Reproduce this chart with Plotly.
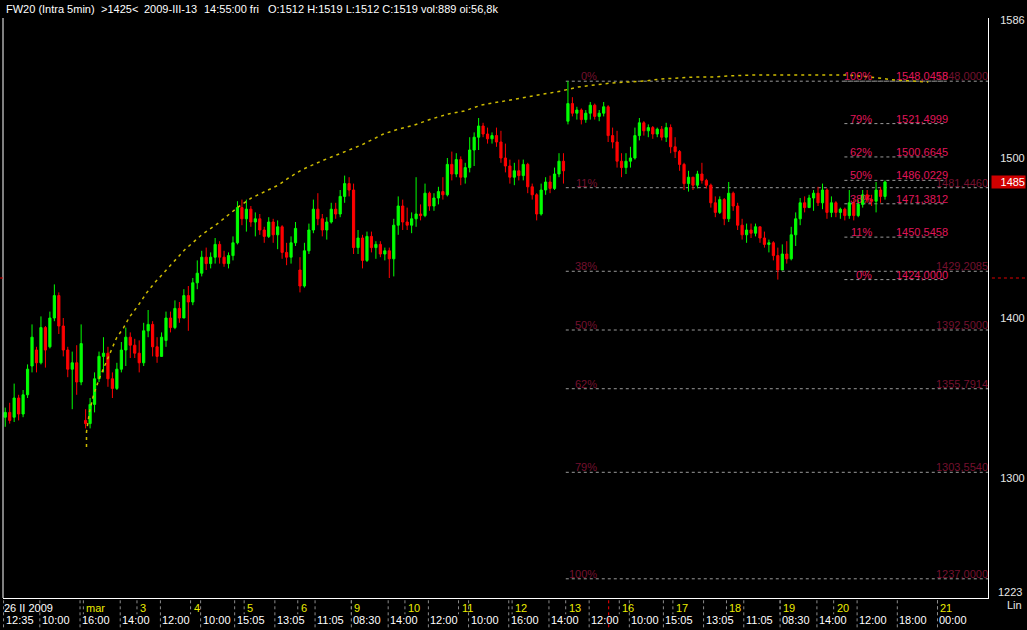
import plotly.graph_objects as go
from datetime import datetime

# ---------------- data ----------------
trading_days = ["2009-02-26", "2009-02-27", "2009-03-02", "2009-03-03", "2009-03-04",
                "2009-03-05", "2009-03-06", "2009-03-09", "2009-03-10", "2009-03-11",
                "2009-03-12", "2009-03-13", "2009-03-16", "2009-03-17", "2009-03-18",
                "2009-03-19", "2009-03-20"]
bars_per_day = 12          # one bar per 40 trading minutes (08:30-16:30)
first_day_first_slot = 6   # the history starts at 26 II 2009 12:35

opens = [
    1338, 1341, 1338, 1350, 1340, 1352,
    1370, 1380, 1372, 1394, 1382, 1400, 1414, 1395, 1380, 1368, 1372, 1360,
    1336, 1334, 1346, 1362, 1376, 1378, 1362, 1356, 1368, 1380, 1388, 1383,
    1378, 1372, 1392, 1396, 1382, 1376, 1386, 1400, 1394, 1406, 1400, 1414,
    1410, 1422, 1428, 1438, 1434, 1438, 1446, 1438, 1434, 1439, 1447, 1469,
    1462, 1468, 1460, 1462, 1455, 1451, 1460, 1452, 1457, 1441, 1438, 1447,
    1430, 1420, 1442, 1455, 1468, 1462, 1455, 1460, 1468, 1465, 1476, 1484,
    1480, 1444, 1450, 1436, 1451, 1444, 1446, 1440, 1442, 1437, 1458, 1470,
    1460, 1458, 1462, 1465, 1464, 1478, 1470, 1475, 1479, 1477, 1496, 1490,
    1499, 1488, 1494, 1505, 1513, 1520, 1515, 1512, 1514, 1510, 1500, 1495,
    1488, 1492, 1489, 1496, 1482, 1477, 1465, 1480, 1485, 1481, 1490, 1498,
    1523, 1534, 1528, 1530, 1524, 1528, 1533, 1526, 1528, 1532, 1514, 1510,
    1498, 1494, 1498, 1500, 1514, 1522, 1517, 1519, 1515, 1518, 1513, 1519,
    1507, 1504, 1496, 1484, 1488, 1483, 1490, 1486, 1483, 1472, 1466, 1474,
    1462, 1478, 1470, 1458, 1452, 1455, 1453, 1457, 1450, 1446, 1447, 1439,
    1430, 1440, 1437, 1452, 1462, 1472, 1469, 1475, 1478, 1472, 1480, 1466,
    1472, 1466, 1468, 1464, 1472, 1464, 1471, 1477, 1474, 1473, 1480, 1476,
]
highs = [
    1344, 1347, 1359, 1352, 1355, 1371,
    1396, 1382, 1401, 1395, 1404, 1421, 1416, 1400, 1382, 1379, 1383, 1396,
    1343, 1350, 1366, 1379, 1388, 1382, 1366, 1372, 1385, 1394, 1391, 1387,
    1386, 1397, 1405, 1398, 1388, 1391, 1404, 1404, 1411, 1410, 1418, 1420,
    1425, 1436, 1442, 1444, 1441, 1450, 1448, 1442, 1441, 1451, 1473, 1474,
    1474, 1470, 1466, 1465, 1457, 1463, 1462, 1461, 1458, 1447, 1451, 1460,
    1438, 1447, 1459, 1474, 1478, 1465, 1463, 1472, 1472, 1480, 1489, 1488,
    1484, 1455, 1452, 1454, 1454, 1448, 1448, 1444, 1444, 1462, 1476, 1474,
    1469, 1466, 1488, 1471, 1484, 1479, 1478, 1482, 1488, 1500, 1504, 1503,
    1501, 1497, 1513, 1516, 1525, 1522, 1519, 1516, 1519, 1517, 1509, 1499,
    1497, 1499, 1499, 1497, 1484, 1478, 1484, 1488, 1489, 1494, 1503, 1503,
    1548, 1538, 1532, 1531, 1530, 1535, 1534, 1530, 1535, 1533, 1519, 1517,
    1503, 1503, 1507, 1519, 1525, 1523, 1521, 1520, 1519, 1520, 1522, 1521,
    1513, 1505, 1497, 1492, 1488, 1492, 1497, 1487, 1484, 1476, 1476, 1475,
    1485, 1479, 1472, 1462, 1459, 1459, 1459, 1457, 1454, 1449, 1448, 1444,
    1446, 1448, 1457, 1466, 1475, 1476, 1477, 1480, 1482, 1484, 1481, 1476,
    1473, 1469, 1469, 1480, 1474, 1474, 1480, 1480, 1477, 1485, 1482, 1486,
]
lows = [
    1332, 1334, 1335, 1336, 1338, 1350,
    1366, 1366, 1371, 1369, 1381, 1398, 1390, 1376, 1363, 1343, 1352, 1358,
    1331, 1331, 1341, 1360, 1366, 1357, 1350, 1355, 1366, 1370, 1375, 1375,
    1366, 1370, 1388, 1376, 1372, 1376, 1382, 1391, 1393, 1397, 1400, 1392,
    1408, 1418, 1426, 1430, 1431, 1434, 1434, 1432, 1431, 1436, 1446, 1458,
    1454, 1457, 1451, 1452, 1447, 1450, 1447, 1443, 1437, 1433, 1434, 1445,
    1416, 1419, 1440, 1453, 1458, 1451, 1449, 1459, 1462, 1463, 1472, 1476,
    1440, 1440, 1431, 1435, 1441, 1437, 1438, 1436, 1425, 1426, 1452, 1455,
    1455, 1453, 1457, 1461, 1463, 1467, 1467, 1471, 1474, 1476, 1486, 1488,
    1483, 1484, 1491, 1495, 1505, 1513, 1509, 1509, 1507, 1497, 1491, 1484,
    1483, 1486, 1486, 1478, 1474, 1461, 1464, 1477, 1478, 1480, 1488, 1484,
    1521, 1526, 1524, 1521, 1522, 1524, 1524, 1523, 1526, 1510, 1506, 1494,
    1488, 1490, 1494, 1499, 1511, 1514, 1513, 1512, 1513, 1511, 1510, 1503,
    1500, 1492, 1480, 1479, 1480, 1481, 1484, 1481, 1469, 1463, 1465, 1458,
    1460, 1467, 1455, 1449, 1447, 1450, 1451, 1447, 1444, 1441, 1436, 1424,
    1430, 1434, 1436, 1445, 1458, 1466, 1469, 1467, 1470, 1468, 1462, 1463,
    1463, 1462, 1461, 1462, 1461, 1463, 1469, 1472, 1470, 1466, 1472, 1474,
]
closes = [
    1341, 1336, 1350, 1340, 1352, 1368,
    1388, 1372, 1394, 1380, 1400, 1414, 1395, 1380, 1368, 1372, 1360, 1384,
    1334, 1346, 1362, 1376, 1378, 1362, 1356, 1368, 1380, 1388, 1383, 1378,
    1372, 1392, 1396, 1382, 1376, 1388, 1400, 1394, 1406, 1400, 1414, 1410,
    1422, 1428, 1438, 1434, 1438, 1446, 1438, 1434, 1439, 1447, 1469, 1462,
    1468, 1460, 1462, 1455, 1451, 1460, 1452, 1457, 1441, 1438, 1447, 1456,
    1420, 1442, 1455, 1468, 1462, 1455, 1460, 1468, 1465, 1476, 1484, 1480,
    1444, 1450, 1436, 1451, 1444, 1446, 1440, 1442, 1437, 1458, 1470, 1460,
    1458, 1462, 1465, 1464, 1478, 1470, 1475, 1479, 1477, 1496, 1490, 1499,
    1488, 1494, 1505, 1513, 1520, 1515, 1512, 1514, 1510, 1500, 1495, 1488,
    1492, 1489, 1496, 1482, 1477, 1465, 1480, 1485, 1481, 1490, 1498, 1492,
    1534, 1528, 1530, 1524, 1528, 1533, 1526, 1528, 1532, 1514, 1510, 1498,
    1494, 1498, 1500, 1514, 1522, 1517, 1519, 1515, 1518, 1513, 1519, 1507,
    1504, 1496, 1484, 1488, 1483, 1490, 1486, 1483, 1472, 1466, 1474, 1462,
    1478, 1470, 1458, 1452, 1455, 1453, 1457, 1450, 1446, 1447, 1439, 1430,
    1440, 1437, 1452, 1462, 1472, 1469, 1475, 1478, 1472, 1480, 1466, 1472,
    1466, 1468, 1464, 1472, 1464, 1471, 1477, 1474, 1473, 1480, 1476, 1485,
]
last_price = 1485
cursor_price = 1425
cursor_time = "2009-03-13 14:55"

# yellow dotted arc (trading-day position, price)
arc_pos = [2.058, 2.058, 2.114, 2.189, 2.300, 2.468, 2.618, 2.748, 2.860, 3.028, 3.177,
           3.327, 3.588, 3.886, 4.203, 4.520, 4.726, 4.894, 5.136, 5.379, 5.640, 5.827,
           6.069, 6.442, 6.815, 7.188, 7.599, 7.879, 8.177, 8.494, 8.811, 9.110, 9.427,
           9.744, 9.950, 10.360, 10.920, 11.237, 11.535, 11.853, 12.170, 12.468, 12.785,
           13.103, 13.401, 13.718, 14.035, 14.520, 15.397, 16.274, 16.834, 17.132, 17.766]
arc_price = [1319.4, 1328.8, 1341.3, 1351.9, 1362.5, 1375.6, 1387.5, 1393.8, 1400.6, 1408.1,
             1415.6, 1421.9, 1431.3, 1442.5, 1451.9, 1459.4, 1465.0, 1469.4, 1475.0, 1478.8,
             1483.1, 1487.5, 1492.5, 1498.1, 1503.1, 1508.1, 1515.0, 1518.1, 1520.6, 1524.4,
             1527.5, 1529.4, 1533.1, 1535.0, 1536.3, 1538.8, 1541.9, 1544.4, 1545.6, 1546.9,
             1547.5, 1548.1, 1549.4, 1550.0, 1550.6, 1550.6, 1551.3, 1551.9, 1551.9, 1551.9,
             1550.0, 1548.8, 1547.5]

# Fibonacci set A (long lines)
fibA_values = [1548.0, 1481.4460, 1429.2085, 1392.5, 1355.7914, 1303.5540, 1237.0]
fibA_pct = ["0%", "11%", "38%", "50%", "62%", "79%", "100%"]
fibA_text = ["1548,0000", "1481,4460", "1429,2085", "1392,5000", "1355,7914", "1303,5540", "1237,0000"]
# Fibonacci set B (short lines)
fibB_values = [1548.0458, 1521.4999, 1500.6645, 1486.0229, 1471.3812, 1450.5458, 1424.0]
fibB_pct = ["100%", "79%", "62%", "50%", "38%", "11%", "0%"]
fibB_text = ["1548,0458", "1521,4999", "1500,6645", "1486,0229", "1471,3812", "1450,5458", "1424,0000"]

# axis labels
price_ticks = [1300, 1400, 1500, 1586]
day_tick_times = ["2009-02-26 12:35", "2009-03-02 08:30", "2009-03-03 08:30", "2009-03-04 08:30",
                  "2009-03-05 08:30", "2009-03-06 08:30", "2009-03-09 08:30", "2009-03-10 08:30",
                  "2009-03-11 08:30", "2009-03-12 08:30", "2009-03-13 08:30", "2009-03-16 08:30",
                  "2009-03-17 08:30", "2009-03-18 08:30", "2009-03-19 08:30", "2009-03-20 08:30",
                  "2009-03-21 00:00"]
day_tick_labels = ["26 II 2009", "mar", "3", "4", "5", "6", "9", "10", "11", "12", "13",
                   "16", "17", "18", "19", "20", "21"]
time_tick_times = ["2009-02-26 12:35", "2009-02-27 10:00", "2009-02-27 16:00", "2009-03-02 14:00",
                   "2009-03-03 12:00", "2009-03-04 10:00", "2009-03-04 15:05", "2009-03-05 13:05",
                   "2009-03-06 11:05", "2009-03-09 08:30", "2009-03-09 14:00", "2009-03-10 12:00",
                   "2009-03-11 10:00", "2009-03-11 16:00", "2009-03-12 14:00", "2009-03-13 12:00",
                   "2009-03-16 10:00", "2009-03-16 15:05", "2009-03-17 13:05", "2009-03-18 11:05",
                   "2009-03-19 08:30", "2009-03-19 14:00", "2009-03-20 12:00", "2009-03-20 18:00",
                   "2009-03-21 00:00"]

header_parts = ["FW20 (Intra 5min)", ">1425<", "2009-III-13", "14:55:00 fri",
                "O:1512 H:1519 L:1512 C:1519 vol:889 oi:56,8k"]

# ---------------- helpers ----------------
SESSION_MIN = 480.0


def trade_pos(ts):
    dt = datetime.strptime(ts, "%Y-%m-%d %H:%M")
    day = dt.strftime("%Y-%m-%d")
    idx = max(i for i, d in enumerate(trading_days) if d <= day)
    open_dt = datetime.strptime(trading_days[idx] + " 08:30", "%Y-%m-%d %H:%M")
    return idx + (dt - open_dt).total_seconds() / 60.0 / SESSION_MIN


bar_x = []
for i in range(len(trading_days)):
    start = first_day_first_slot if i == 0 else 0
    for s in range(start, bars_per_day):
        bar_x.append(i + (s + 0.5) / bars_per_day)
assert len(bar_x) == len(opens) == len(highs) == len(lows) == len(closes)

X_MIN, X_MAX = 0.50, 18.88
Y_MIN, Y_MAX = 1225.0, 1587.5
FONT = "Liberation Sans, Arial, sans-serif"
COL_A = "#74102e"
COL_B = "#e0165a"
GRID = "#9a9a9a"

fig = go.Figure()

fig.add_trace(go.Scatter(x=arc_pos, y=arc_price, mode="lines",
                         line=dict(color="#cdbb00", width=1.5, dash="3px,4px"),
                         hoverinfo="skip"))

fig.add_trace(go.Candlestick(
    x=bar_x, open=opens, high=highs, low=lows, close=closes,
    increasing=dict(line=dict(color="#00ff00", width=1), fillcolor="#00ff00"),
    decreasing=dict(line=dict(color="#ff0000", width=1), fillcolor="#ff0000"),
    whiskerwidth=0, hoverinfo="skip"))

shapes = []
annotations = []

# Fibonacci set A
idx_top = highs.index(max(highs))
fibA_x0 = bar_x[idx_top] - 0.04
fibA_label_x = 11.63
for v, p, t in zip(fibA_values, fibA_pct, fibA_text):
    shapes.append(dict(type="line", xref="x", yref="y", x0=fibA_x0, x1=X_MAX, y0=v, y1=v,
                       line=dict(color=GRID, width=1, dash="3px,3px"), layer="below"))
    annotations.append(dict(xref="x", yref="y", x=fibA_label_x, y=v, text=p, showarrow=False,
                            xanchor="right", yanchor="bottom", yshift=-3,
                            font=dict(family=FONT, size=11, color=COL_A)))
    annotations.append(dict(xref="paper", yref="y", x=1.0, y=v, text=t, showarrow=False,
                            xanchor="right", yanchor="bottom", yshift=-3, xshift=2,
                            font=dict(family=FONT, size=11, color=COL_A)))

# Fibonacci set B
fibB_x0, fibB_x1 = 16.2, 18.07
fibB_pct_x, fibB_val_x = 16.76, 17.12
for v, p, t in zip(fibB_values, fibB_pct, fibB_text):
    shapes.append(dict(type="line", xref="x", yref="y", x0=fibB_x0, x1=fibB_x1, y0=v, y1=v,
                       line=dict(color=GRID, width=1, dash="3px,3px"), layer="below"))
    annotations.append(dict(xref="x", yref="y", x=fibB_pct_x, y=v, text=p, showarrow=False,
                            xanchor="right", yanchor="bottom", yshift=-3,
                            font=dict(family=FONT, size=11, color=COL_B)))
    annotations.append(dict(xref="x", yref="y", x=fibB_val_x, y=v, text=t, showarrow=False,
                            xanchor="left", yanchor="bottom", yshift=-3,
                            font=dict(family=FONT, size=11, color=COL_B)))

# left border
shapes.append(dict(type="line", xref="paper", yref="paper", x0=0, x1=0, y0=0, y1=1,
                   line=dict(color="white", width=1)))

# cursor marks
cx = trade_pos(cursor_time)
shapes.append(dict(type="line", xref="x", yref="paper", x0=cx, x1=cx, y0=-0.004, y1=-0.056,
                   line=dict(color="#ff0000", width=1, dash="dot")))
shapes.append(dict(type="line", xref="paper", yref="y", x0=1.004, x1=1.045,
                   y0=cursor_price, y1=cursor_price,
                   line=dict(color="#e00000", width=1, dash="3px,3px")))
shapes.append(dict(type="line", xref="paper", yref="y", x0=-0.003, x1=0.0,
                   y0=cursor_price, y1=cursor_price,
                   line=dict(color="#e00000", width=1)))

# time axis: dotted separators + labels
for ts in time_tick_times:
    px = max(trade_pos(ts), X_MIN)
    shapes.append(dict(type="line", xref="x", yref="paper", x0=px, x1=px, y0=-0.004, y1=-0.056,
                       line=dict(color="#8c8c8c", width=1, dash="dot")))
    annotations.append(dict(xref="x", yref="paper", x=px, y=-0.038, text=ts[-5:], showarrow=False,
                            xanchor="left", yanchor="middle", xshift=0,
                            font=dict(family=FONT, size=11, color="white")))
for k, (ts, lab) in enumerate(zip(day_tick_times, day_tick_labels)):
    px = max(trade_pos(ts), X_MIN)
    if k > 0:
        shapes.append(dict(type="line", xref="x", yref="paper", x0=px, x1=px, y0=-0.004, y1=-0.028,
                           line=dict(color="#8c8c8c", width=1, dash="dot")))
    annotations.append(dict(xref="x", yref="paper", x=px, y=-0.0165, text=lab, showarrow=False,
                            xanchor="left", yanchor="middle", xshift=1 if k > 0 else -2,
                            font=dict(family=FONT, size=11,
                                      color="white" if k == 0 else "#ecec00")))

# header
header_px = [4, 99, 142, 202, 266]
for hx, txt in zip(header_px, header_parts):
    annotations.append(dict(xref="paper", yref="paper", x=(hx - 3) / 985.0, y=1.0, text=txt,
                            showarrow=False, xanchor="left", yanchor="bottom", yshift=1,
                            font=dict(family=FONT, size=11, color="white")))

# price axis extras
annotations.append(dict(xref="paper", yref="paper", x=1.0365, y=0.0105, text="1223",
                        showarrow=False, xanchor="right", yanchor="middle",
                        font=dict(family=FONT, size=11, color="#e6e6e6")))
annotations.append(dict(xref="paper", yref="paper", x=1.0365, y=-0.012, text="Lin",
                        showarrow=False, xanchor="right", yanchor="middle",
                        font=dict(family=FONT, size=11, color="#e6e6e6")))
annotations.append(dict(xref="paper", yref="y", x=1.003, y=last_price, text=str(last_price),
                        showarrow=False, xanchor="left", yanchor="middle", width=33, height=12,
                        align="right", bgcolor="#d00000", borderpad=0,
                        font=dict(family=FONT, size=11, color="white")))

fig.update_layout(
    width=1027, height=630,
    margin=dict(l=3, r=39, t=18, b=32),
    paper_bgcolor="black", plot_bgcolor="black",
    showlegend=False, hovermode=False,
    font=dict(family=FONT, size=11, color="white"),
    shapes=shapes, annotations=annotations,
)
fig.update_xaxes(range=[X_MIN, X_MAX], showgrid=False, zeroline=False, showticklabels=False,
                 showline=True, linecolor="white", linewidth=1, ticks="",
                 rangeslider_visible=False)
fig.update_yaxes(side="right", range=[Y_MIN, Y_MAX], tickvals=price_ticks,
                 ticktext=[str(v) for v in price_ticks],
                 showgrid=False, zeroline=False, showline=True, linecolor="white", linewidth=1,
                 ticks="outside", ticklen=9, tickcolor="rgba(0,0,0,0)",
                 tickfont=dict(family=FONT, size=11, color="#e6e6e6"))

fig.write_html("out.html", config={"displayModeBar": False},
               post_script="document.body.style.margin='0px';document.body.style.background='black';")
